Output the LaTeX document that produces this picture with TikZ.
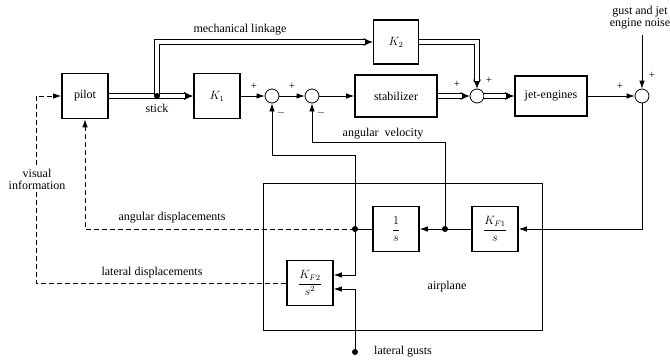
\documentclass[tikz,border=0pt]{standalone}
\usepackage{amsmath}
\usepackage{fontspec}
\setmainfont{Liberation Serif}
\usetikzlibrary{arrows.meta,positioning,calc}

\begin{document}
\begin{tikzpicture}[x=1pt, y=-1pt,
  block/.style={draw, line width=1.6pt, rectangle, minimum width=46pt, minimum height=45pt, align=center, font=\fontsize{12}{14}\selectfont},
  sumj/.style={draw, circle, line width=0.8pt, fill=white, minimum size=14pt, inner sep=0pt},
  dotj/.style={circle, fill=black, minimum size=6pt, inner sep=0pt},
  arr/.style={-{Latex[length=8pt,width=5.5pt]}, line width=0.8pt},
  darr/.style={-{Latex[length=9pt,width=8pt]}, line width=0.8pt},
  dbl/.style={line width=0.8pt, double, double distance=3.5pt, shorten >=8pt},
  dsh/.style={dash pattern=on 5pt off 3pt},
  lbl/.style={font=\fontsize{12}{14}\selectfont, inner sep=1pt, align=center},
  sgn/.style={font=\fontsize{11}{12}\selectfont, inner sep=0pt}
]
\useasboundingbox (0,0) rectangle (670,360);

% airplane dynamics frame
\node[draw, line width=0.7pt, minimum width=279pt, minimum height=147pt] (plane) at (402.5,256.5) {};
\node[lbl] (planelbl) at (447,287) {airplane};

% forward path
\node[block] (pilot) at (85,96) {pilot};
\coordinate (stick) at (157,96);
\node[block] (k1) at (217,96) {\(K_1\)};
\node[sumj] (s1) at (272,96) {};
\node[sumj] (s2) at (312,96) {};
\node[block, minimum width=82pt, minimum height=42pt] (stab) at (396,96) {stabilizer};
\node[block, minimum width=45pt, minimum height=44pt] (k2) at (396,42) {\(K_2\)};
\node[sumj] (s3) at (477,96) {};
\node[block, minimum width=72pt, minimum height=40pt] (jet) at (551,96) {jet-engines};
\node[sumj] (s4) at (642,96) {};
\coordinate (noise) at (642,35);

% airplane blocks
\node[block] (kf1) at (495,229) {\(\displaystyle\frac{K_{F1}}{s}\)};
\node[block] (inv) at (396,229) {\(\displaystyle\frac{1}{s}\)};
\node[block] (kf2) at (310,283) {\(\displaystyle\frac{K_{F2}}{s^2}\)};
\coordinate (va) at (445,229);
\coordinate (vb) at (355,229);
\coordinate (gust) at (355,352);

% double lines (mechanical)
\draw[darr] (pilot) -- (k1);
\draw[dbl] (pilot) -- (k1);
\draw[darr] (stick) |- (k2);
\draw[dbl] (stick) |- (k2);
\draw[darr] (k2.east) -| (s3.north);
\draw[dbl] (k2.east) -| (s3.north);
\draw[darr] (stab) -- (s3);
\draw[dbl] (stab) -- (s3);
\draw[darr] (s3) -- (jet);
\draw[dbl] (s3) -- (jet);

% single lines
\draw[arr] (k1) -- (s1);
\draw[arr] (s1) -- (s2);
\draw[arr] (s2) -- (stab);
\draw[arr] (jet) -- (s4);
\draw[arr] (noise) -- (s4);
\draw[arr] (s4.south) |- (kf1.east);
\draw[arr] (kf1) -- (inv);
\draw[line width=0.8pt] (inv.west) -- (vb);
\draw[arr] (va) -- ++(0,-87) -| (s2.south);
\draw[arr] (vb) -- ++(0,-74) -| (s1.south);
\draw[arr] (vb) |- ([yshift=8pt]kf2.east);
\draw[arr] (gust) |- ([yshift=-6pt]kf2.east);

% visual feedback (dashed)
\draw[arr, dsh] (vb) -| (pilot.south);
\draw[arr, dsh] (kf2.west) -| ([xshift=-25pt]pilot.west) |- (pilot.west);

% junction dots
\node[dotj] (stickdot) at (stick) {};
\node[dotj] (vadot) at (va) {};
\node[dotj] (vbdot) at (vb) {};
\node[dotj] (gustdot) at (gust) {};

% labels
\node[lbl] (sticklbl) at (157,108) {stick};
\node[lbl] (mechlbl) at (240,30) {mechanical linkage};
\node[lbl] (noiselbl) at (640,18) {gust and jet\\[-2pt]engine noise};
\node[lbl] (avlbl) at (383,134) {angular\enspace velocity};
\node[lbl] (adlbl) at (172,218) {angular displacements};
\node[lbl] (ldlbl) at (152,273) {lateral displacements};
\node[lbl, anchor=west] (gustlbl) at (373,352) {lateral gusts};
\node[lbl, fill=white] (vislbl) at (37,179) {visual\\[-2pt]information};

% signs at the summing points
\node[sgn] at (254,86) {+};
\node[sgn] at (281,113) {\(-\)};
\node[sgn] at (292,86) {+};
\node[sgn] at (321,113) {\(-\)};
\node[sgn] at (457,84) {+};
\node[sgn] at (489,80) {+};
\node[sgn] at (620,86) {+};
\node[sgn] at (652,75) {+};
\end{tikzpicture}
\end{document}
